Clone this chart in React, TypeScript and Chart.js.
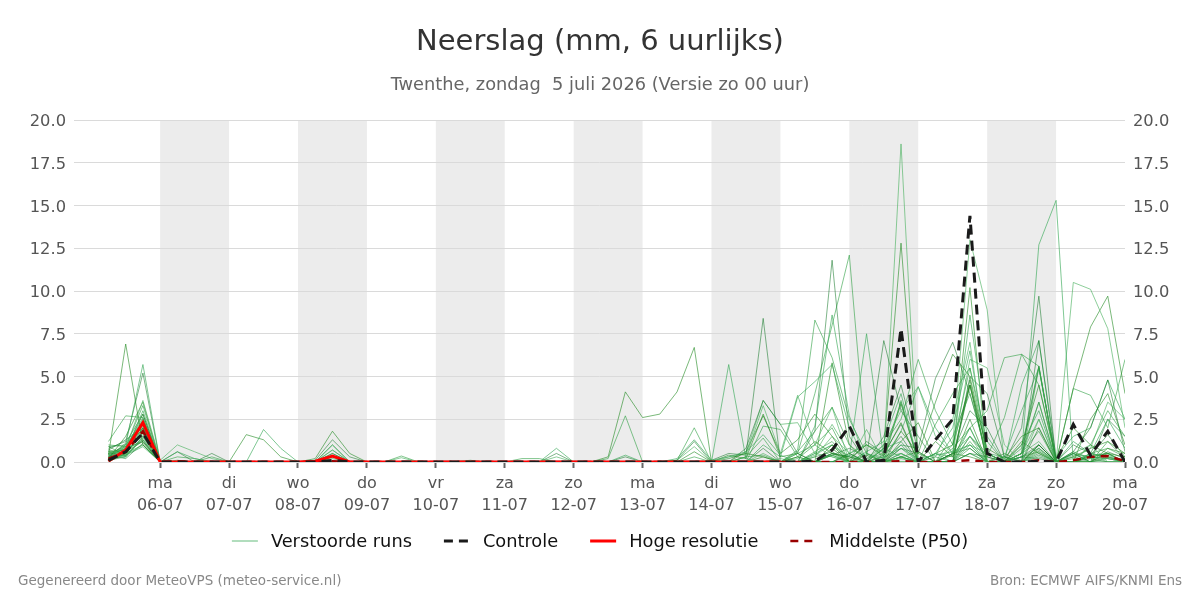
import { useEffect, useRef } from "react";
import { Chart, registerables } from "chart.js";

Chart.register(...registerables);

const FONT = '"DejaVu Sans", Verdana, sans-serif';

const TITLE = "Neerslag (mm, 6 uurlijks)";
const SUBTITLE = "Twenthe, zondag  5 juli 2026 (Versie zo 00 uur)";
const FOOTER_LEFT = "Gegenereerd door MeteoVPS (meteo-service.nl)";
const FOOTER_RIGHT = "Bron: ECMWF AIFS/KNMI Ens";

// x axis: hours since ma 06-07 00:00
const dayNames = ["ma", "di", "wo", "do", "vr", "za", "zo", "ma", "di", "wo", "do", "vr", "za", "zo", "ma"];
const dayDates = ["06-07", "07-07", "08-07", "09-07", "10-07", "11-07", "12-07", "13-07", "14-07", "15-07", "16-07", "17-07", "18-07", "19-07", "20-07"];
const shadedDays = [0, 2, 4, 6, 8, 10, 12];
const firstHour = -18; // zo 05-07 06:00
const stepHours = 6;
const xMin = -30;
const xMax = 336;

const legendLabels = ["Verstoorde runs", "Controle", "Hoge resolutie", "Middelste (P50)"];

// 6-hourly values: 3 on 05-07, then 4 per day 06-07 .. 19-07, then 20-07 00:00
const controle = [
  0.1, 0.6, 1.7,
  0, 0, 0, 0, 0, 0, 0, 0, 0, 0, 0.1, 0, 0, 0, 0, 0, 0, 0, 0, 0, 0, 0, 0, 0, 0, 0, 0, 0,
  0, 0, 0, 0, 0, 0, 0, 0, 0, 0, 0.05, 0.7, 2.1, 0, 0.1, 7.8, 0, 1.3, 2.5, 14.4, 0.5, 0, 0, 0.05, 0, 2.2, 0.4, 1.8,
  0,
];
const hogeResolutie = [
  0.05, 0.7, 2.3,
  0, 0, 0, 0, 0, 0, 0, 0, 0, 0.05, 0.35, 0, 0, 0, 0, 0, 0, 0, 0, 0, 0, 0, 0, 0, 0, 0, 0, 0,
  0, 0, 0, 0, 0, 0, 0, 0, 0,
];
const middelste = [
  0.2, 0.6, 1.8,
  0, 0.05, 0, 0, 0, 0, 0, 0, 0, 0, 0.05, 0, 0, 0, 0, 0, 0, 0, 0, 0, 0, 0, 0, 0, 0, 0, 0, 0,
  0, 0, 0, 0, 0, 0, 0, 0, 0, 0, 0, 0, 0, 0, 0, 0.05, 0, 0, 0.05, 0.1, 0, 0, 0, 0.1, 0, 0.1, 0.3, 0.35,
  0.05,
];

const run01 = [0.4, 6.9, 1.0,
  0, 0.1, 0, 0, 0, 0, 0, 0, 0, 0.2, 1.8, 0.5, 0, 0, 0, 0, 0, 0, 0, 0, 0, 0, 0, 0, 0, 0, 0.3, 4.1,
  2.6, 2.8, 4.1, 6.7, 0, 0.2, 0.5, 0.3, 0, 0.3, 1.2, 0.5, 0.2, 1.0, 0.4, 2.3, 0, 1.2, 0.3, 4.5, 0.8, 0.2, 1.5, 2.0, 0, 0.3, 0.8, 1.2,
  0.5];
const run02 = [1.2, 2.7, 2.6,
  0, 0, 0, 0.3, 0, 0, 0, 0, 0, 0, 0.3, 0, 0, 0, 0.35, 0, 0, 0, 0, 0, 0, 0, 0, 0, 0, 0, 0.2, 2.7,
  0, 0, 0.1, 2.0, 0, 0, 0.3, 0.4, 0, 0.6, 1.8, 3.2, 1.0, 0.2, 0.5, 3.5, 0, 2.2, 4.0, 5.5, 1.2, 0, 0.8, 5.6, 0, 0.5, 1.0, 3.0,
  1.5];
const run03 = [0.3, 1.0, 5.7,
  0, 0.6, 0.2, 0, 0, 0, 1.9, 0.8, 0, 0, 1.0, 0, 0, 0, 0, 0, 0, 0, 0.1, 0, 0, 0, 0, 0, 0, 0, 0, 0.4,
  0, 0, 0.2, 1.3, 0.1, 0.3, 0.6, 1.6, 0.4, 0, 2.1, 8.6, 2.7, 0, 0.8, 1.2, 0, 0.5, 2.0, 6.5, 0.5, 0, 0.3, 3.5, 0, 1.2, 0.5, 2.5,
  0.8];
const run04 = [0.8, 1.2, 5.2,
  0, 0, 0, 0, 0, 0, 0, 0, 0, 0.1, 1.3, 0.3, 0, 0, 0, 0, 0, 0, 0, 0, 0, 0, 0, 0, 0, 0, 0, 0.3,
  0, 0, 0.1, 1.2, 0, 0, 0.8, 3.6, 2.2, 0.5, 0, 0.5, 0.3, 0, 1.5, 4.5, 0.6, 0, 0, 5.0, 4.0, 0.3, 0, 7.1, 0, 0.6, 2.0, 4.8,
  0.6];
const run05 = [0.5, 0.8, 3.6,
  0.1, 1.0, 0.6, 0.2, 0, 0, 0, 0, 0, 0, 0.7, 0, 0, 0, 0.25, 0, 0, 0, 0, 0, 0, 0, 0, 0, 0, 0, 0, 0,
  0, 0, 0.1, 0.9, 0, 0, 0.3, 3.3, 0.5, 3.9, 1.0, 0.3, 0, 0.2, 1.0, 3.0, 4.4, 1.5, 0.5, 6.0, 5.5, 1.0, 0, 2.5, 0, 0, 0.5, 0.3,
  0];
const run06 = [0.2, 1.5, 3.5,
  0, 0, 0, 0, 0, 1.6, 1.3, 0.3, 0, 0, 0, 0, 0, 0, 0, 0, 0, 0, 0, 0, 0, 0, 0, 0, 0, 0, 0, 0,
  0, 0, 0, 0.6, 0, 0.4, 0.2, 2.8, 0.3, 0.5, 0, 1.0, 0, 0.4, 0, 1.8, 0.5, 3.5, 6.3, 5.0, 0.5, 0, 1.0, 4.5, 0.2, 2.0, 1.0, 0.5,
  0.3];
const run07 = [1.0, 0.9, 3.3,
  0, 0, 0, 0, 0, 0, 0, 0, 0, 0, 1.0, 0, 0, 0, 0, 0, 0, 0, 0, 0, 0, 0.2, 0.2, 0, 0, 0, 0, 0,
  0, 0, 0, 0.3, 0, 0, 0, 2.1, 1.9, 0.3, 0, 0.4, 0, 0, 0, 3.6, 0, 0, 1.5, 4.0, 0.3, 2.6, 6.3, 5.6, 0, 0, 0, 1.2,
  0.2];
const run08 = [0.1, 0.6, 3.0,
  0, 0, 0, 0, 0, 0, 0, 0, 0, 0, 0.7, 0, 0, 0, 0, 0, 0, 0, 0, 0, 0, 0, 0, 0.8, 0, 0, 0, 0,
  0, 0, 0, 0, 0, 5.7, 0.2, 0, 0, 0, 0, 0.5, 0, 0, 0.3, 0.8, 0.2, 0.4, 0.6, 1.0, 0.5, 0.3, 0, 0.4, 0, 0.4, 0.3, 0.2,
  0];
const run09 = [0.3, 1.1, 2.8,
  0, 0.6, 0, 0.5, 0, 0, 0, 0, 0, 0, 0.5, 0, 0, 0, 0, 0, 0, 0, 0, 0, 0, 0, 0, 0.5, 0, 0, 0, 0,
  0, 0, 0, 0, 0.1, 0.5, 0.4, 8.4, 0, 0, 0, 0, 0.5, 0, 0.4, 1.5, 0, 0, 0.5, 3.0, 2.0, 0, 0.3, 1.0, 0, 0.5, 0, 0.6,
  0.2];
const run10 = [0.6, 0.5, 2.2,
  0, 0, 0, 0, 0, 0, 0, 0, 0, 0, 0.5, 0, 0, 0, 0, 0, 0, 0, 0, 0, 0, 0, 0, 0.3, 0, 0, 0, 0,
  0, 0, 0, 0, 0, 0.3, 0.5, 3.6, 2.2, 2.3, 0.5, 2.2, 0.5, 1.0, 0.3, 0.5, 0, 0.3, 2.5, 7.0, 0, 0, 0.5, 2.5, 0, 0.2, 0.8, 3.5,
  2.5];
const run11 = [0.2, 0.7, 2.0,
  0, 0, 0, 0, 0, 0, 0, 0, 0, 0, 0.3, 0, 0, 0, 0, 0, 0, 0, 0, 0, 0, 0, 0, 0, 0, 0, 0, 0,
  0, 0, 0, 0, 0, 0, 0.6, 2.7, 0.5, 1.3, 2.8, 1.5, 0, 0, 0, 1.2, 2.3, 0, 0, 4.8, 0, 0, 1.2, 0.5, 0, 0, 0, 0.8,
  0.5];
const run12 = [0.9, 0.4, 1.8,
  0, 0.3, 0.2, 0, 0, 0, 0, 0, 0, 0, 0.2, 0, 0, 0, 0, 0, 0, 0, 0, 0, 0, 0, 0, 0, 0, 0, 0, 0,
  0, 0, 0, 0, 0, 0, 0.3, 1.4, 0, 0.7, 8.3, 6.1, 2.5, 0.5, 0, 0.3, 0, 0, 0.8, 2.0, 0, 0, 0, 0.5, 0, 0, 0, 0,
  0];
const run13 = [0.1, 0.3, 1.5,
  0, 0, 0, 0, 0, 0, 0, 0, 0, 0, 0, 0, 0, 0, 0, 0, 0, 0, 0, 0, 0, 0, 0, 0, 0, 0, 0, 0,
  0, 0, 0, 0, 0, 0, 0, 1.0, 0.3, 3.8, 4.7, 5.7, 2.0, 0, 0, 0.5, 0, 0, 0, 1.0, 0, 0.3, 3.0, 5.5, 0, 0, 0.5, 0.3,
  0];
const run14 = [0.4, 0.8, 1.2,
  0, 0, 0, 0, 0, 0, 0, 0, 0, 0, 0, 0, 0, 0, 0, 0, 0, 0, 0, 0, 0, 0, 0, 0, 0, 0, 0, 0,
  0, 0, 0, 0, 0, 0, 0, 0.8, 0, 0, 1.8, 11.8, 1.5, 0, 0, 0.8, 0.5, 0, 0, 0.5, 0.3, 0, 0, 2.0, 0, 0, 0.4, 1.6,
  0.3];
const run15 = [0.2, 0.4, 1.0,
  0, 0, 0, 0, 0, 0, 0, 0, 0, 0, 0, 0, 0, 0, 0, 0, 0, 0, 0, 0, 0, 0, 0, 0, 0, 0, 0, 0,
  0, 0, 0, 0, 0, 0, 0, 0.5, 0, 0.5, 1.0, 3.2, 0, 1.9, 0, 0, 0, 0, 0, 1.5, 0, 0, 0, 0.7, 0, 0, 1.0, 0,
  0];
const run16 = [0.0, 0.5, 2.5,
  0, 0, 0, 0, 0, 0, 0, 0, 0, 0, 0, 0, 0, 0, 0, 0, 0, 0, 0, 0, 0, 0, 0, 0, 0, 0, 0, 0,
  0, 0, 0, 0, 0, 0, 0, 0.3, 0, 0, 0, 5.8, 1.0, 0, 0, 0, 0, 0, 0, 2.5, 0, 0, 0.5, 3.5, 0, 0, 2.5, 4.0,
  1.0];
const run17 = [0.3, 0.9, 2.3,
  0, 0, 0, 0, 0, 0, 0, 0, 0, 0, 0, 0, 0, 0, 0, 0, 0, 0, 0, 0, 0, 0, 0, 0, 0, 0, 0, 0,
  0, 0, 0, 0, 0, 0, 0, 0, 0, 0.5, 4.0, 8.0, 12.1, 0.5, 0, 0.3, 0, 0, 0, 1.2, 0, 0, 0, 0.3, 0, 0, 0, 0.5,
  0];
const run18 = [0.5, 0.6, 1.6,
  0, 0, 0, 0, 0, 0, 0, 0, 0, 0, 0, 0, 0, 0, 0, 0, 0, 0, 0, 0, 0, 0, 0, 0, 0, 0, 0, 0,
  0, 0, 0, 0, 0, 0, 0, 0, 0, 0, 0.5, 1.0, 0.3, 7.5, 0.2, 1.0, 0, 0.5, 0, 2.0, 0, 0, 0.3, 0.8, 0, 0.6, 0.2, 0.4,
  0];
const run19 = [0.7, 1.3, 2.0,
  0, 0, 0, 0, 0, 0, 0, 0, 0, 0, 0, 0, 0, 0, 0, 0, 0, 0, 0, 0, 0, 0, 0, 0, 0, 0, 0, 0,
  0, 0, 0, 0, 0, 0, 0, 0, 0, 0, 0, 0.4, 0.8, 0.3, 7.1, 3.0, 1.5, 0, 0.5, 0.8, 0, 0, 0.3, 0.2, 0, 0, 0.2, 0,
  0];
const run20 = [0.2, 0.3, 1.4,
  0, 0, 0, 0, 0, 0, 0, 0, 0, 0, 0, 0, 0, 0, 0, 0, 0, 0, 0, 0, 0, 0, 0, 0, 0, 0, 0, 0,
  0, 0, 0, 0, 0, 0, 0, 0, 0, 0, 0.3, 1.5, 0.5, 1.0, 0.6, 18.6, 0, 0, 0.5, 1.0, 0, 0.3, 0, 0.6, 0, 0, 0.4, 0,
  0];
const run21 = [0.6, 0.7, 2.8,
  0, 0, 0, 0, 0, 0, 0, 0, 0, 0, 0, 0, 0, 0, 0, 0, 0, 0, 0, 0, 0, 0, 0, 0, 0, 0, 0, 0,
  0, 0, 0, 0, 0, 0, 0, 0, 0, 0, 0, 0.5, 0.3, 0, 0.8, 12.8, 0, 0.5, 1.0, 4.5, 0, 0, 0, 0.8, 0, 0, 0, 0.3,
  0];
const run22 = [0.3, 0.4, 2.0,
  0, 0, 0, 0, 0, 0, 0, 0, 0, 0, 0, 0, 0, 0, 0, 0, 0, 0, 0, 0, 0, 0, 0, 0, 0, 0, 0, 0,
  0, 0, 0, 0, 0, 0, 0, 0, 0, 0, 0, 0.4, 0, 0, 1.0, 2.5, 6.0, 3.0, 1.0, 5.5, 0.5, 0, 0.5, 1.8, 0, 0.3, 0, 0,
  0];
const run23 = [0.9, 1.0, 2.4,
  0, 0, 0, 0, 0, 0, 0, 0, 0, 0, 0, 0, 0, 0, 0, 0, 0, 0, 0, 0, 0, 0, 0, 0, 0, 0, 0, 0,
  0, 0, 0, 0, 0, 0, 0, 0, 0, 0, 0, 0, 0, 0.5, 0.2, 1.8, 4.4, 2.0, 0.5, 8.6, 1.5, 0, 1.0, 3.0, 0, 0.5, 0, 0.2,
  0];
const run24 = [0.4, 0.2, 1.1,
  0, 0, 0, 0, 0, 0, 0, 0, 0, 0, 0, 0, 0, 0, 0, 0, 0, 0, 0, 0, 0, 0, 0, 0, 0, 0, 0, 0,
  0, 0, 0, 0, 0, 0, 0, 0, 0, 0, 0, 0, 0, 0, 0, 1.0, 0.8, 4.9, 7.0, 4.0, 0.5, 0, 0, 1.0, 0, 1.0, 0.5, 0.3,
  0];
const run25 = [0.2, 0.5, 1.7,
  0, 0, 0, 0, 0, 0, 0, 0, 0, 0, 0, 0, 0, 0, 0, 0, 0, 0, 0, 0, 0, 0, 0, 0, 0, 0, 0, 0,
  0, 0, 0, 0, 0, 0, 0, 0, 0, 0, 0.5, 0.3, 0, 0, 0, 0.8, 0, 0, 1.0, 13.0, 8.9, 0, 0.5, 1.2, 0, 0, 0.4, 0.5,
  0];
const run26 = [0.5, 0.9, 1.9,
  0, 0, 0, 0, 0, 0, 0, 0, 0, 0, 0, 0, 0, 0, 0, 0, 0, 0, 0, 0, 0, 0, 0, 0, 0, 0, 0, 0,
  0, 0, 0, 0, 0, 0, 0, 0, 0, 0.3, 0, 0.8, 0, 0, 0, 0.3, 0.6, 0, 0.4, 10.2, 0, 0.5, 0, 1.0, 0, 0, 0.3, 0.5,
  0];
const run27 = [0.3, 0.7, 1.3,
  0, 0, 0, 0, 0, 0, 0, 0, 0, 0, 0, 0, 0, 0, 0, 0, 0, 0, 0, 0, 0, 0, 0, 0, 0, 0, 0, 0,
  0, 0, 0, 0, 0, 0, 0, 0, 0, 0, 0.6, 1.2, 0, 0, 0, 0.2, 0, 0.5, 0.3, 2.0, 3.0, 6.1, 6.3, 4.5, 0, 0, 0.5, 0.8,
  0.3];
const run28 = [0.1, 0.4, 0.9,
  0, 0, 0, 0, 0, 0, 0, 0, 0, 0, 0, 0, 0, 0, 0, 0, 0, 0, 0, 0, 0, 0, 0, 0, 0, 0, 0, 0,
  0, 0, 0, 0, 0, 0, 0, 0, 0, 0, 0, 0, 0.4, 0, 0.8, 0.3, 0, 0, 0, 0.5, 0, 0, 0.5, 12.7, 15.3, 0, 0.3, 0.5,
  0];
const run29 = [0.6, 0.3, 1.5,
  0, 0, 0, 0, 0, 0, 0, 0, 0, 0, 0, 0, 0, 0, 0, 0, 0, 0, 0, 0, 0, 0, 0, 0, 0, 0, 0, 0,
  0, 0, 0, 0, 0, 0, 0, 0, 0, 0, 0, 0, 0, 1.2, 0.5, 2.2, 0, 0.3, 0, 1.5, 0.3, 0, 2.0, 9.7, 0, 0.5, 0.3, 0.2,
  0];
const run30 = [0.4, 1.0, 2.1,
  0, 0, 0, 0, 0, 0, 0, 0, 0, 0, 0, 0, 0, 0, 0, 0, 0, 0, 0, 0, 0, 0, 0, 0, 0, 0, 0, 0,
  0, 0, 0, 0, 0, 0, 0, 0, 0.2, 0, 0.4, 1.0, 0, 0, 0, 0.3, 0, 0, 0, 0.5, 0, 0, 0, 1.0, 0, 10.5, 10.1, 7.8,
  2.0];
const run31 = [0.2, 0.6, 1.2,
  0, 0, 0, 0, 0, 0, 0, 0, 0, 0, 0, 0, 0, 0, 0, 0, 0, 0, 0, 0, 0, 0, 0, 0, 0, 0, 0, 0,
  0, 0, 0, 0, 0, 0, 0, 0, 0, 0, 0, 0, 0.5, 0, 0.3, 3.4, 0, 0, 0.5, 0.3, 0, 0, 0.3, 0.6, 0, 4.3, 7.9, 9.7,
  4.0];
const run32 = [0.7, 0.5, 1.0,
  0, 0, 0, 0, 0, 0, 0, 0, 0, 0, 0, 0, 0, 0, 0, 0, 0, 0, 0, 0, 0, 0, 0, 0, 0, 0, 0, 0,
  0, 0, 0, 0, 0, 0, 0, 0, 0, 0.2, 1.0, 2.0, 0, 0, 0, 0, 0, 0, 0, 0.8, 0, 0, 0, 5.5, 0, 4.3, 3.9, 2.0,
  6.0];
const run33 = [0.3, 0.8, 2.6,
  0, 0, 0, 0, 0, 0, 0, 0, 0, 0, 0, 0, 0, 0, 0, 0, 0, 0, 0, 0, 0, 0, 0, 0, 0, 0, 0, 0,
  0, 0, 0, 0, 0, 0, 0, 0, 0, 0, 0, 0, 0, 0.6, 1.2, 4.0, 0, 0, 0.5, 1.5, 0.5, 0, 4.5, 7.1, 0.3, 1.5, 2.0, 4.8,
  2.5];
const run34 = [0.5, 0.4, 1.3,
  0, 0, 0, 0, 0, 0, 0, 0, 0, 0, 0, 0, 0, 0, 0, 0, 0, 0, 0, 0, 0, 0, 0, 0, 0, 0, 0, 0,
  0, 0, 0, 0, 0, 0, 0, 0, 0, 0, 0.3, 0.6, 0, 0, 0, 0.5, 0, 0, 0, 4.5, 0, 0, 0.5, 5.6, 0, 0, 0, 2.5,
  1.5];

const verstoordeRuns = [
  run01, run02, run03, run04, run05, run06, run07, run08, run09, run10, run11, run12,
  run13, run14, run15, run16, run17, run18, run19, run20, run21, run22, run23, run24,
  run25, run26, run27, run28, run29, run30, run31, run32, run33, run34,
];

const greenShades = [
  "rgba(34,139,34,0.6)",
  "rgba(46,160,67,0.6)",
  "rgba(60,170,90,0.65)",
  "rgba(20,120,40,0.55)",
  "rgba(80,180,100,0.65)",
];
const CONTROL_COLOR = "#1a1a1a";
const HRES_COLOR = "#ff0000";
const MEDIAN_COLOR = "#990000";

const toPoints = (vals: number[]) => vals.map((v, i) => ({ x: firstHour + stepHours * i, y: v }));

const bgPlugin = {
  id: "bgBands",
  beforeDraw(chart: any) {
    const { ctx, chartArea, scales } = chart;
    ctx.save();
    ctx.fillStyle = "#ffffff";
    ctx.fillRect(0, 0, chart.width, chart.height);
    ctx.fillStyle = "#ececec";
    for (const d of shadedDays) {
      const x0 = scales.x.getPixelForValue(d * 24);
      const x1 = scales.x.getPixelForValue(d * 24 + 24);
      ctx.fillRect(x0, chartArea.top, x1 - x0, chartArea.bottom - chartArea.top);
    }
    ctx.restore();
  },
};

const textPlugin = {
  id: "texts",
  afterDraw(chart: any) {
    const { ctx } = chart;
    const W = chart.width;
    ctx.save();
    ctx.textBaseline = "middle";
    ctx.textAlign = "center";
    ctx.fillStyle = "#333333";
    ctx.font = `29px ${FONT}`;
    ctx.fillText(TITLE, W / 2, 42);
    ctx.fillStyle = "#666666";
    ctx.font = `17.8px ${FONT}`;
    ctx.fillText(SUBTITLE, W / 2, 85.5);

    // legend
    ctx.font = `17.8px ${FONT}`;
    const sampleW = 26;
    const gap = 13;
    const itemGap = 32;
    const widths = legendLabels.map((l) => ctx.measureText(l).width);
    const total = widths.reduce((a, w) => a + sampleW + gap + w, 0) + itemGap * (legendLabels.length - 1);
    let x = W / 2 - total / 2;
    const ly = 542;
    legendLabels.forEach((label, i) => {
      ctx.save();
      ctx.beginPath();
      if (i === 0) {
        ctx.strokeStyle = "rgba(60,170,90,0.8)";
        ctx.lineWidth = 1;
      } else if (i === 1) {
        ctx.strokeStyle = CONTROL_COLOR;
        ctx.lineWidth = 3;
        ctx.setLineDash([9, 6]);
      } else if (i === 2) {
        ctx.strokeStyle = HRES_COLOR;
        ctx.lineWidth = 3;
      } else {
        ctx.strokeStyle = MEDIAN_COLOR;
        ctx.lineWidth = 2.5;
        ctx.setLineDash([8, 6]);
      }
      ctx.moveTo(x, ly - 1);
      ctx.lineTo(x + sampleW, ly - 1);
      ctx.stroke();
      ctx.restore();
      ctx.fillStyle = "#111111";
      ctx.textAlign = "left";
      ctx.fillText(label, x + sampleW + gap, ly);
      x += sampleW + gap + widths[i] + itemGap;
    });

    // footer
    ctx.font = `13.5px ${FONT}`;
    ctx.fillStyle = "#888888";
    ctx.textAlign = "left";
    ctx.fillText(FOOTER_LEFT, 18, 581);
    ctx.textAlign = "right";
    ctx.fillText(FOOTER_RIGHT, W - 18, 581);
    ctx.restore();
  },
};

export default function App() {
  const ref = useRef<HTMLCanvasElement | null>(null);

  useEffect(() => {
    if (!ref.current) return;
    const datasets: any[] = [
      {
        label: legendLabels[1],
        data: toPoints(controle),
        borderColor: CONTROL_COLOR,
        borderWidth: 3,
        borderDash: [10, 6],
        pointRadius: 0,
        tension: 0,
        yAxisID: "y",
      },
      {
        label: legendLabels[2],
        data: toPoints(hogeResolutie),
        borderColor: HRES_COLOR,
        borderWidth: 3,
        pointRadius: 0,
        tension: 0,
        yAxisID: "y",
      },
      {
        label: legendLabels[3],
        data: toPoints(middelste),
        borderColor: MEDIAN_COLOR,
        borderWidth: 2.5,
        borderDash: [8, 6],
        pointRadius: 0,
        tension: 0,
        yAxisID: "y",
      },
      ...verstoordeRuns.map((run, k) => ({
        label: legendLabels[0],
        data: toPoints(run),
        borderColor: greenShades[k % greenShades.length],
        borderWidth: 1,
        pointRadius: 0,
        tension: 0,
        yAxisID: "y",
      })),
    ];

    const tickFont = { family: FONT, size: 16.3 };

    const chart = new Chart(ref.current, {
      type: "line",
      data: { datasets },
      plugins: [bgPlugin, textPlugin],
      options: {
        animation: false,
        responsive: false,
        devicePixelRatio: 1,
        layout: { padding: { top: 120, left: 0, right: 0, bottom: 0 } },
        plugins: {
          legend: { display: false },
          title: { display: false },
          tooltip: { enabled: false },
        },
        scales: {
          x: {
            type: "linear",
            min: xMin,
            max: xMax,
            afterBuildTicks: (scale: any) => {
              scale.ticks = dayDates.map((_, d) => ({ value: d * 24 }));
            },
            afterFit: (scale: any) => {
              scale.height = 138;
            },
            ticks: {
              autoSkip: false,
              maxRotation: 0,
              padding: 5,
              color: "#555555",
              font: { family: FONT, size: 16, lineHeight: 1.375 },
              callback: (v: any) => {
                const d = Math.round(Number(v) / 24);
                return [dayNames[d], dayDates[d]];
              },
            },
            grid: {
              display: true,
              drawOnChartArea: false,
              drawTicks: true,
              tickLength: 6,
              tickColor: "#666666",
              tickWidth: 2,
            },
            border: { display: false },
          },
          y: {
            position: "left",
            min: 0,
            max: 20,
            afterFit: (scale: any) => {
              scale.width = 74;
            },
            ticks: {
              stepSize: 2.5,
              padding: 8,
              labelOffset: 2,
              color: "#555555",
              font: tickFont,
              callback: (v: any) => Number(v).toFixed(1),
            },
            grid: { color: "#dadada", lineWidth: 1, drawTicks: false },
            border: { display: false },
          },
          y2: {
            position: "right",
            min: 0,
            max: 20,
            afterFit: (scale: any) => {
              scale.width = 75;
            },
            ticks: {
              stepSize: 2.5,
              padding: 8,
              labelOffset: 2,
              color: "#555555",
              font: tickFont,
              callback: (v: any) => Number(v).toFixed(1),
            },
            grid: { display: false, drawTicks: false },
            border: { display: false },
          },
        },
      } as any,
    });
    return () => chart.destroy();
  }, []);

  return (
    <div style={{ position: "absolute", left: 0, top: 0, width: 1200, height: 600 }}>
      <canvas ref={ref} width={1200} height={600} style={{ display: "block" }} />
    </div>
  );
}
